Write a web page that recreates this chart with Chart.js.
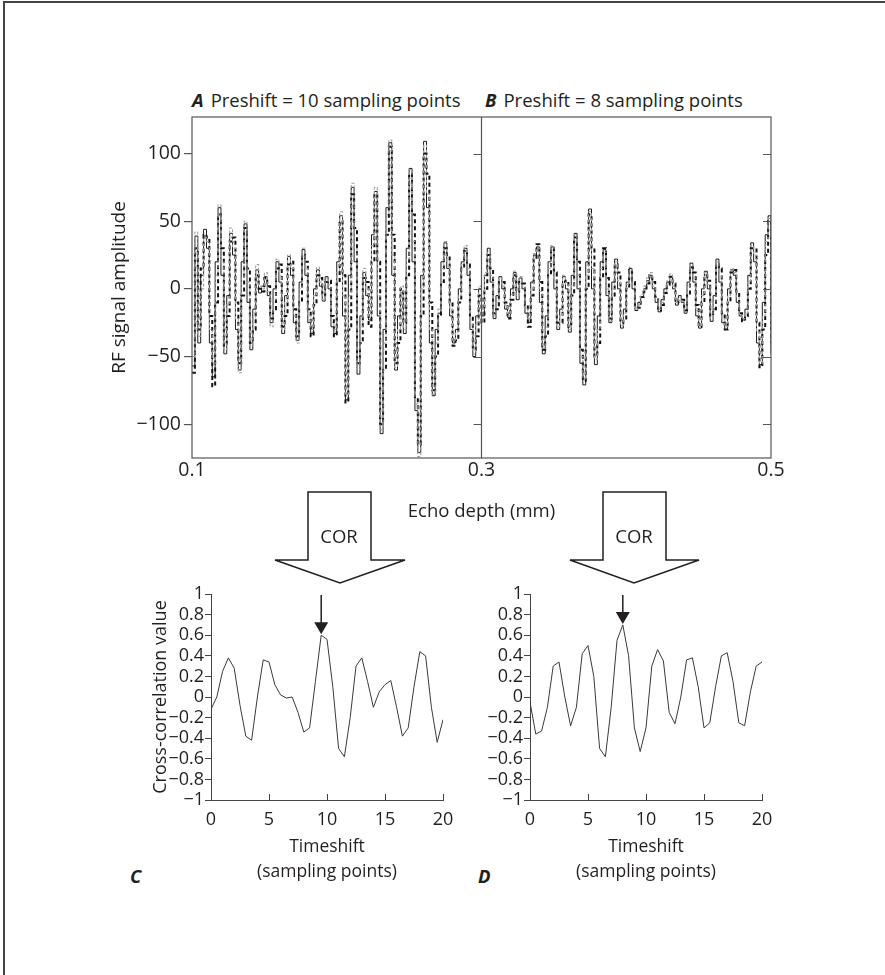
<!DOCTYPE html>
<html>
<head>
<meta charset="utf-8">
<script src="https://cdn.jsdelivr.net/npm/chart.js@4.4.1/dist/chart.umd.min.js"></script>
<style>
  html, body { margin: 0; padding: 0; background: #fff; }
  body { width: 885px; height: 975px; position: relative; overflow: hidden; font-family: 'Open Sans', sans-serif; color: #231f20; }
  canvas { position: absolute; }
  .lbl { position: absolute; font-size: 18.5px; line-height: 24px; white-space: nowrap; }
  .lbl b { font-style: italic; font-weight: 700; margin-right: 7px; }
  #frameTop { position: absolute; left: 3px; top: 1px; width: 882px; height: 2px; background: #444; }
  #frameLeft { position: absolute; left: 3px; top: 1px; width: 2px; height: 974px; background: #444; }
</style>
</head>
<body>
<div id="frameTop"></div>
<div id="frameLeft"></div>

<div class="lbl" style="left:192px; top:88px;"><b>A</b>Preshift = 10 sampling points</div>
<div class="lbl" style="left:485px; top:88px;"><b>B</b>Preshift = 8 sampling points</div>
<div class="lbl" style="left:130px; top:864px;"><b style="margin:0">C</b></div>
<div class="lbl" style="left:478px; top:864px;"><b style="margin:0">D</b></div>

<canvas id="rf" width="885" height="540" style="left:0; top:0;"></canvas>
<canvas id="corC" width="380" height="330" style="left:100px; top:570px;"></canvas>
<canvas id="corD" width="380" height="330" style="left:419px; top:570px;"></canvas>

<svg width="885" height="975" style="position:absolute; left:0; top:0; pointer-events:none;">
  <g fill="#fff" stroke="#231f20" stroke-width="1.5" stroke-linejoin="miter">
    <polygon points="308,492 371,492 371,560 405,560 340,583 275,560 308,560"/>
    <polygon points="603,492 666,492 666,560 699,560 634,583 570,560 603,560"/>
  </g>
  <g font-family="'Open Sans', sans-serif" font-size="18.5" fill="#231f20" text-anchor="middle">
    <text x="339" y="543">COR</text>
    <text x="634" y="543">COR</text>
  </g>
</svg>

<script>
// RF echo signals, sampled every 0.002 mm from 0.1 mm to 0.5 mm
var depthStart = 0.1;
var depthStep = 0.002;
var dividerDepth = 0.3;
var depthTicks = [0.1, 0.3, 0.5];
var amplitudeTicks = [-100, -50, 0, 50, 100];

var rfSolid = [
  -57, 39, -40, 10, 44, 30, -40, -65, 20, 60,
  10, -48, -5, 41, 25, -30, -60, 20, 48, -10,
  -45, -15, 14, -3, 2, 9, -5, -25, 0, 20,
  5, -33, -5, 24, 10, -25, -38, 5, 29, 10,
  -25, -33, 0, 14, 2, -9, 9, 0, -28, -33,
  20, 54, -20, -82, 10, 75, 20, -63, -20, 12,
  -5, -23, 40, 72, -20, -107, -30, 60, 108, 10,
  -60, -20, -3, -33, 30, 89, 20, -90, -121, 10,
  109, 60, -40, -79, -30, -18, 20, 34, 15, -20,
  -40, -30, 0, 20, 30, 10, -30, -50, -20, 0,
  -20,
  10, 30, 5, -22, -5, 9, 0, -15, -21, 0,
  12, -8, 8, 0, -18, -25, 5, 25, 31, -10,
  -48, -20, 20, 31, 0, -30, -15, 9, 0, -32,
  10, 41, 0, -55, -71, 20, 59, 0, -56, -20,
  20, 29, -5, -25, 5, 22, 0, -29, -15, 5,
  15, 0, -16, -10, -6, 0, 6, 10, 0, -10,
  -17, -8, 0, 5, 9, 0, -12, -5, -10, -18,
  5, 19, 5, -20, -29, 0, 13, 0, -24, -5,
  22, 5, -25, -30, 0, 14, 10, -10, -20, -23,
  -15, 10, 34, 20, -40, -56, -10, 40, 54, -48
];

var rfDashed = [
  -62, 30, -30, 15, 40, 38, -20, -72, -10, 55,
  30, -42, -20, 35, 38, -10, -55, -5, 45, 15,
  -40, -30, 10, 0, -2, 8, 2, -22, -15, 15,
  18, -28, -20, 18, 20, -15, -35, -10, 25, 20,
  -15, -35, -12, 10, 8, -5, 5, 6, -20, -35,
  5, 50, 10, -84, -30, 70, 45, -55, -40, 8,
  5, -28, 20, 70, 20, -100, -60, 40, 105, 40,
  -55, -40, 0, -25, 10, 85, 55, -80, -115, -20,
  100, 85, -10, -75, -50, -20, 5, 30, 25, -10,
  -42, -38, -10, 15, 28, 18, -20, -45, -35, -5,
  -25,
  0, 25, 15, -18, -15, 5, 5, -10, -22, -8,
  10, -2, 5, 4, -12, -28, -5, 22, 33, 5,
  -45, -35, 10, 30, 12, -25, -25, 5, 6, -28,
  -5, 38, 20, -45, -68, 0, 55, 30, -50, -40,
  8, 30, 8, -22, -5, 18, 12, -25, -22, 0,
  14, 5, -14, -14, -6, -2, 4, 10, 5, -6,
  -16, -12, -3, 3, 9, 4, -10, -8, -8, -16,
  -5, 16, 12, -12, -28, -10, 10, 6, -20, -15,
  18, 15, -18, -30, -10, 12, 14, -2, -18, -24,
  -20, 0, 30, 30, -25, -58, -30, 25, 50, -40
];

var rfGray = [
  -50, 42, -35, 0, 38, 35, -30, -55, 10, 62,
  20, -45, -12, 45, 30, -22, -62, 8, 50, 5,
  -42, -22, 18, 2, 0, 12, -2, -28, -8, 22,
  10, -30, -10, 25, 15, -20, -40, 0, 30, 15,
  -20, -30, -5, 16, 5, -8, 8, 3, -25, -30,
  12, 57, -5, -78, -5, 78, 30, -60, -28, 15,
  0, -20, 32, 75, -5, -104, -40, 55, 110, 25,
  -58, -30, 2, -30, 22, 88, 35, -85, -124, 0,
  106, 70, -30, -78, -40, -15, 15, 35, 20, -15,
  -38, -32, -5, 18, 32, 15, -25, -48, -25, 2,
  -15,
  12, 28, 10, -20, -10, 8, 2, -12, -20, -4,
  13, -5, 9, 2, -15, -22, 0, 26, 30, -2,
  -44, -28, 15, 32, 6, -28, -20, 10, 3, -30,
  2, 40, 10, -50, -66, 10, 57, 15, -52, -30,
  15, 27, 0, -24, 0, 20, 6, -27, -18, 3,
  16, 3, -15, -12, -4, 2, 8, 12, 2, -8,
  -15, -10, -2, 6, 11, 2, -10, -6, -9, -17,
  2, 18, 8, -16, -27, -5, 12, 3, -22, -10,
  20, 10, -22, -28, -5, 15, 12, -6, -19, -22,
  -18, 5, 32, 25, -32, -55, -20, 35, 52, -45
];

// cross-correlation, timeshift 0..20 sampling points in steps of 0.5
var shiftStep = 0.5;
var corTicks = [0, 5, 10, 15, 20];
var corC = [
  -0.12, 0.0, 0.25, 0.38, 0.28, -0.08, -0.38, -0.42, 0.0, 0.36,
  0.34, 0.12, 0.02, -0.01, 0.0, -0.15, -0.34, -0.3, 0.15, 0.6,
  0.56, 0.1, -0.5, -0.58, -0.2, 0.3, 0.38, 0.15, -0.1, 0.05,
  0.12, 0.16, -0.1, -0.38, -0.3, 0.1, 0.44, 0.4, -0.1, -0.44,
  -0.22
];
var corD = [
  -0.05, -0.36, -0.33, -0.1, 0.3, 0.34, 0.0, -0.28, -0.1, 0.42,
  0.5, 0.2, -0.5, -0.58, -0.1, 0.55, 0.7, 0.4, -0.3, -0.53,
  -0.3, 0.3, 0.46, 0.35, -0.15, -0.26, 0.0, 0.36, 0.38, 0.1,
  -0.3, -0.25, 0.1, 0.4, 0.43, 0.15, -0.25, -0.28, 0.05, 0.3,
  0.34
];

Chart.defaults.font.family = "'Open Sans', sans-serif";
Chart.defaults.color = '#231f20';
Chart.defaults.animation = false;

function minus(s) { return String(s).replace('-', '\u2212'); }

function toPoints(values, start, step) {
  return values.map(function (v, i) { return { x: start + i * step, y: v }; });
}

var ink = '#231f20';
var frameColor = '#555';

var rfFrame = {
  id: 'rfFrame',
  afterDraw: function (chart) {
    var ctx = chart.ctx, a = chart.chartArea, x = chart.scales.x, y = chart.scales.y;
    ctx.save();
    ctx.strokeStyle = frameColor;
    ctx.lineWidth = 1.2;
    ctx.strokeRect(a.left, a.top, a.right - a.left, a.bottom - a.top);
    var xd = x.getPixelForValue(dividerDepth);
    ctx.beginPath();
    ctx.moveTo(xd, a.top);
    ctx.lineTo(xd, a.bottom);
    y.ticks.forEach(function (t) {
      var py = Math.round(y.getPixelForValue(t.value)) + 0.5;
      ctx.moveTo(xd - 8, py); ctx.lineTo(xd, py);
      ctx.moveTo(a.right - 8, py); ctx.lineTo(a.right, py);
    });
    ctx.stroke();
    ctx.restore();
  }
};

new Chart(document.getElementById('rf'), {
  type: 'line',
  data: {
    datasets: [{
      data: toPoints(rfGray, depthStart, depthStep),
      borderColor: '#a0a0a0', borderWidth: 1.1, borderDash: [3, 2],
      stepped: true, pointRadius: 0
    }, {
      data: toPoints(rfSolid, depthStart, depthStep),
      borderColor: '#1a1a1a', borderWidth: 1,
      stepped: true, pointRadius: 0
    }, {
      data: toPoints(rfDashed, depthStart, depthStep),
      borderColor: '#111', borderWidth: 2, borderDash: [4, 3],
      stepped: true, pointRadius: 0
    }]
  },
  options: {
    responsive: false,
    layout: { padding: { top: 117, right: 114, left: 95, bottom: 0 } },
    plugins: { legend: { display: false }, tooltip: { enabled: false } },
    scales: {
      x: {
        type: 'linear', min: 0.1, max: 0.5,
        afterBuildTicks: function (s) { s.ticks = depthTicks.map(function (v) { return { value: v }; }); },
        afterFit: function (s) { s.height = 82; },
        grid: { display: false, drawTicks: false },
        border: { display: false },
        ticks: { padding: 1, font: { size: 19.5 }, color: ink, callback: function (v) { return v.toFixed(1); } },
        title: { display: true, text: 'Echo depth (mm)', font: { size: 18.5 }, color: ink, padding: { bottom: 17 } }
      },
      y: {
        min: -125, max: 127,
        afterBuildTicks: function (s) { s.ticks = amplitudeTicks.map(function (v) { return { value: v }; }); },
        afterFit: function (s) { s.width = 192 - 95; },
        grid: { drawOnChartArea: false, tickLength: 8, color: frameColor, lineWidth: 1.2 },
        border: { display: false },
        ticks: { padding: 3, font: { size: 19.5 }, color: ink, callback: function (v) { return minus(v); } },
        title: { display: true, text: 'RF signal amplitude', font: { size: 19 }, color: ink, padding: { top: 13 } }
      }
    }
  },
  plugins: [rfFrame]
});

var corMarks = {
  id: 'corMarks',
  afterDraw: function (chart) {
    var ctx = chart.ctx, a = chart.chartArea, x = chart.scales.x, y = chart.scales.y;
    ctx.save();
    ctx.strokeStyle = '#444';
    ctx.lineWidth = 1;
    ctx.beginPath();
    corTicks.forEach(function (t) {
      var px = Math.round(x.getPixelForValue(t)) + 0.5;
      ctx.moveTo(px, a.bottom); ctx.lineTo(px, a.bottom - 6);
    });
    ctx.stroke();
    // arrow pointing at the correlation peak
    var pts = chart.data.datasets[0].data, best = pts[0];
    pts.forEach(function (p) { if (p.y > best.y) best = p; });
    var tx = x.getPixelForValue(best.x), ty = y.getPixelForValue(best.y) - 1;
    ctx.strokeStyle = ink; ctx.fillStyle = ink; ctx.lineWidth = 1.5;
    ctx.beginPath();
    ctx.moveTo(tx, a.top + 1); ctx.lineTo(tx, ty - 10);
    ctx.stroke();
    ctx.beginPath();
    ctx.moveTo(tx - 7, ty - 12); ctx.lineTo(tx + 7, ty - 12); ctx.lineTo(tx, ty);
    ctx.closePath(); ctx.fill();
    ctx.restore();
  }
};

function corChart(id, values, showTitle) {
  return new Chart(document.getElementById(id), {
    type: 'line',
    data: {
      datasets: [{
        data: toPoints(values, 0, shiftStep),
        borderColor: '#3a3a3a', borderWidth: 1, pointRadius: 0, tension: 0
      }]
    },
    options: {
      responsive: false,
      layout: { padding: { top: 24, right: 37, left: 40, bottom: 0 } },
      plugins: { legend: { display: false }, tooltip: { enabled: false } },
      scales: {
        x: {
          type: 'linear', min: 0, max: 20,
          afterBuildTicks: function (s) { s.ticks = corTicks.map(function (v) { return { value: v }; }); },
          afterFit: function (s) { s.height = 100; },
          grid: { display: false, drawTicks: false },
          border: { display: true, color: '#444', width: 1 },
          ticks: { padding: 9, font: { size: 18 }, color: ink },
          title: { display: true, text: ['Timeshift', '(sampling points)'], font: { size: 17.5, lineHeight: 1.4 }, color: ink, padding: { bottom: 16 } }
        },
        y: {
          min: -1, max: 1,
          ticks: { stepSize: 0.2, autoSkip: false, padding: 1, font: { size: 18 }, color: ink,
            callback: function (v) { return minus(Math.round(v * 10) / 10); } },
          afterFit: function (s) { s.width = 111 - 40; },
          grid: { drawOnChartArea: false, tickLength: 6, color: '#444' },
          border: { display: true, color: '#444', width: 1 },
          title: { display: showTitle, text: 'Cross-correlation value', font: { size: 18 }, color: ink, padding: { top: 10 } }
        }
      }
    },
    plugins: [corMarks]
  });
}

corChart('corC', corC, true);
corChart('corD', corD, false);
</script>
</body>
</html>
